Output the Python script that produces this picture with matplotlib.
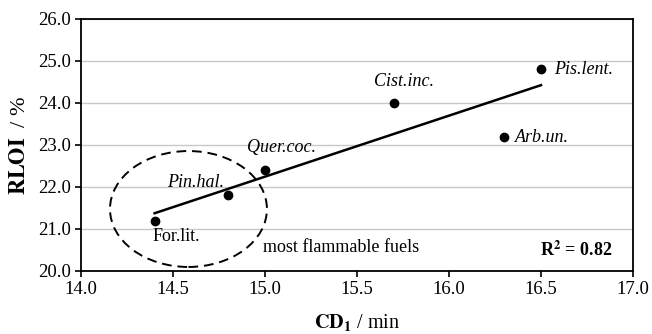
import numpy as np
import matplotlib.pyplot as plt
from matplotlib.patches import Ellipse

plt.rcParams['font.family'] = 'Liberation Serif'
plt.rcParams['mathtext.fontset'] = 'stix'

# fuel species: CD1 (min) vs RLOI (%)
species = ['For.lit.', 'Pin.hal.', 'Quer.coc.', 'Cist.inc.', 'Arb.un.', 'Pis.lent.']
cd1 = [14.4, 14.8, 15.0, 15.7, 16.3, 16.5]
rloi = [21.2, 21.8, 22.4, 24.0, 23.2, 24.8]
italic = [False, True, True, True, True, True]
label_pos = [(14.39, 20.83), (14.47, 22.1), (14.90, 22.93),
             (15.59, 24.5), (16.36, 23.19), (16.57, 24.79)]

fig = plt.figure(figsize=(6.52, 3.34), dpi=100)
ax = fig.add_axes([81/652, 63/334, 552/652, 252/334])

ax.set_xlim(14.0, 17.0)
ax.set_ylim(20.0, 26.0)
ax.set_xticks(np.arange(14.0, 17.01, 0.5))
ax.set_yticks(np.arange(20.0, 26.01, 1.0))
ax.xaxis.set_major_formatter(plt.FormatStrFormatter('%.1f'))
ax.yaxis.set_major_formatter(plt.FormatStrFormatter('%.1f'))
ax.tick_params(labelsize=13.5, direction='out', length=4, width=1.2, colors='black', pad=3)
ax.yaxis.grid(True, color='#c8c8c8', linewidth=1)
ax.set_axisbelow(True)
for s in ax.spines.values():
    s.set_linewidth(1.3)

# linear fit
k, b = np.polyfit(cd1, rloi, 1)
xs = np.array([min(cd1), max(cd1)])
ax.plot(xs, k * xs + b, color='black', linewidth=1.8)
ax.scatter(cd1, rloi, s=36, color='black', zorder=3)

for name, (lx, ly), it in zip(species, label_pos, italic):
    ax.text(lx, ly, name, fontsize=13, style='italic' if it else 'normal',
            ha='left', va='center')

ax.add_patch(Ellipse((14.584, 21.476), 0.853, 2.76, fill=False,
                     linestyle=(0, (5, 3)), linewidth=1.4, edgecolor='black'))
ax.text(14.99, 20.57, 'most flammable fuels', fontsize=13, ha='left', va='center')
ax.text(16.89, 20.5, r'R$^\mathbf{2}$ = 0.82', fontsize=13, fontweight='bold',
        ha='right', va='center')

ax.set_ylabel(r'$\mathbf{RLOI}$  / %', fontsize=16, labelpad=6)
ax.set_xlabel(r'$\mathbf{CD_1}$ / min', fontsize=14.5, labelpad=10)

fig.savefig('out.png', dpi=100)
